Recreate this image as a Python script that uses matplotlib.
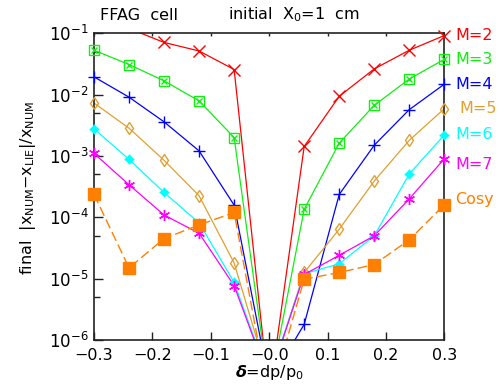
import matplotlib
matplotlib.use("Agg")
import matplotlib.pyplot as plt
import numpy as np

# data
delta = [-0.3, -0.24, -0.18, -0.12, -0.06, 0.0, 0.06, 0.12, 0.18, 0.24, 0.3]
m2 = [0.2, 0.12, 0.071, 0.0515, 0.0257, 1.2e-7, 1.43e-3, 9.4e-3, 0.0263, 0.053, 0.092]
m3 = [0.053, 0.031, 0.0168, 0.0079, 0.0020, 1.5e-7, 1.35e-4, 1.62e-3, 6.7e-3, 0.018, 0.0377]
m4 = [0.0195, 0.0091, 0.0036, 0.00121, 1.58e-4, 2.0e-7, 1.8e-6, 2.36e-4, 1.5e-3, 5.7e-3, 0.0148]
m5 = [0.0073, 0.00284, 8.5e-4, 2.24e-4, 1.8e-5, 2.2e-7, 1.26e-5, 6.4e-5, 3.9e-4, 1.8e-3, 5.9e-3]
m6 = [0.00277, 8.8e-4, 2.54e-4, 8.1e-5, 8.7e-6, 2.3e-7, 1.2e-5, 1.75e-5, 5.0e-5, 5.1e-4, 2.2e-3]
m7 = [1.1e-3, 3.4e-4, 1.09e-4, 5.5e-5, 7.7e-6, 2.2e-7, 1.17e-5, 2.4e-5, 5.0e-5, 2.0e-4, 9.0e-4]
cosy = [2.36e-4, 1.5e-5, 4.5e-5, 7.5e-5, 1.2e-4, 1.0e-7, 9.8e-6, 1.26e-5, 1.7e-5, 4.3e-5, 1.6e-4]

names = ["M=2", "M=3", "M=4", "M=5", "M=6", "M=7", "Cosy"]
xtick_vals = [-0.3, -0.2, -0.1, 0.0, 0.1, 0.2, 0.3]
xtick_text = ["\u22120.3", "\u22120.2", "\u22120.1", "\u22120.0", "0.1", "0.2", "0.3"]

series = [m2, m3, m4, m5, m6, m7, cosy]
colors = ["#ff0000", "#11ee11", "#0000ff", "#e0a030", "#00ffff", "#ff00ff", "#ff8000"]
# (marker, size, filled) ; second entry is an overlay marker
marks = [
    [("x", 8, False)],
    [("s", 6.5, False), ("x", 5, False)],
    [("+", 9, False)],
    [("d", 6.5, False)],
    [("D", 4.5, True), ("+", 6.5, False)],
    [((6, 2, 0), 8, False)],
    [("s", 8, True)],
]
label_off = [(8, 0), (8, 0), (8, 0), (11, 0), (8, 0), (8, -4), (8, 4)]

plt.rcParams["font.family"] = "DejaVu Sans"

fig = plt.figure(figsize=(4.99, 3.86), dpi=100)
ax = fig.add_axes([0.1884, 0.1192, 0.7020, 0.7945])
ax.set_yscale("log")
ax.set_xlim(-0.3, 0.3)
ax.set_ylim(1e-6, 1e-1)

x = np.array(delta)
for ys, c, mk, name, off in zip(series, colors, marks, names, label_off):
    ys = np.array(ys)
    if name == "Cosy":
        ax.plot(x, ys, color=c, lw=1.0, dashes=(7, 3))
    else:
        ax.plot(x, ys, color=c, lw=0.9)
    inside = (ys >= 1e-6) & (ys <= 1e-1)
    for m, s, filled in mk:
        ax.plot(x[inside], ys[inside], ls="none", marker=m, ms=s, mew=1.0,
                mec=c, mfc=c if filled else "none", clip_on=False, zorder=3)
    ax.annotate(name, xy=(x[-1], ys[-1]), xytext=off, textcoords="offset points",
                color=c, fontsize=11.5, va="center", ha="left", annotation_clip=False)

ax.set_xticks(xtick_vals)
ax.set_xticklabels(xtick_text)
ax.yaxis.set_minor_locator(matplotlib.ticker.LogLocator(base=10, subs=[5.0]))
ax.yaxis.set_minor_formatter(matplotlib.ticker.NullFormatter())
ax.tick_params(axis="x", which="major", direction="in", length=6, width=1.0,
               labelsize=11.5, pad=6, top=False, color="#222222")
ax.tick_params(axis="y", which="major", direction="in", length=6.5, width=1.0,
               labelsize=12, pad=4, right=False, color="#222222")
ax.tick_params(axis="y", which="minor", direction="in", length=4, width=1.0,
               right=False, color="#222222")

top = ax.secondary_xaxis("top")
top.set_xticks(xtick_vals)
top.tick_params(direction="in", length=2, width=1.0, labeltop=False, color="#222222")
top.spines["top"].set_visible(False)

for sp in ax.spines.values():
    sp.set_linewidth(1.2)
    sp.set_color("#222222")

fig.text(100 / 499, 1 - 15 / 386, "FFAG  cell", fontsize=11.5, va="center", ha="left")
fig.text(228 / 499, 1 - 15 / 386, "initial  X$_0$=1  cm", fontsize=11.5, va="center", ha="left")
fig.text(28 / 499, 1 - 188 / 386,
         "final  |x$_{\\mathrm{NUM}}$\u2212x$_{\\mathrm{LIE}}$|/x$_{\\mathrm{NUM}}$",
         rotation=90, fontsize=11.5, va="center", ha="center")
fig.text(269 / 499, 1 - 372 / 386, "$\\boldsymbol{\\delta}$=dp/p$_0$",
         fontsize=11.5, va="center", ha="center")

fig.savefig("out.png", dpi=100)
